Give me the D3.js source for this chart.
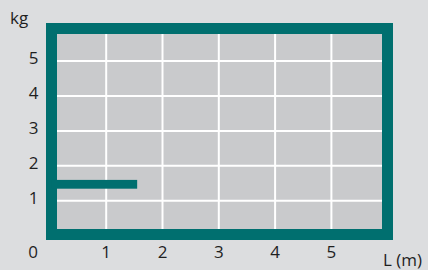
<!DOCTYPE html>
<html>
<head>
<meta charset="utf-8">
<script src="https://cdn.jsdelivr.net/npm/d3@7"></script>
<style>
  body { margin: 0; background: #dcdddf; }
  text { font-family: "Open Sans", sans-serif; fill: #1f1f1f; font-size: 17px; }
</style>
</head>
<body>
<div id="chart"></div>
<script>
// chart data
var xTicks = [1, 2, 3, 4, 5];
var yTicks = [1, 2, 3, 4, 5];
// the single horizontal bar: length and weight
var barLength = [1.55];
var barWeight = [1.47];

var width = 428,
    height = 270;

var svg = d3.select("#chart")
  .append("svg")
    .attr("width", width)
    .attr("height", height);

svg.append("rect")
  .attr("width", width).attr("height", height)
  .attr("fill", "#dcdddf");

var x = d3.scaleLinear().domain([0, 1]).range([49.9, 106.2]);
var y = d3.scaleLinear().domain([0, 1]).range([235.6, 200.7]);

var frameW = 11;
var boxL = 46, boxR = 393, boxT = 23, boxB = 240;

// plot area
svg.append("rect")
  .attr("x", boxL).attr("y", boxT)
  .attr("width", boxR - boxL).attr("height", boxB - boxT)
  .attr("fill", "#c9cacc");

// grid
svg.selectAll(".vgrid")
  .data(xTicks)
  .enter()
  .append("line")
    .attr("x1", function(d) { return x(d); })
    .attr("x2", function(d) { return x(d); })
    .attr("y1", boxT).attr("y2", boxB)
    .attr("stroke", "#fff")
    .attr("stroke-width", 2);

svg.selectAll(".hgrid")
  .data(yTicks)
  .enter()
  .append("line")
    .attr("y1", function(d) { return y(d); })
    .attr("y2", function(d) { return y(d); })
    .attr("x1", boxL).attr("x2", boxR)
    .attr("stroke", "#fff")
    .attr("stroke-width", 2);

// frame
svg.append("rect")
  .attr("x", boxL + frameW / 2).attr("y", boxT + frameW / 2)
  .attr("width", boxR - boxL - frameW).attr("height", boxB - boxT - frameW)
  .attr("fill", "none")
  .attr("stroke", "#006f6f")
  .attr("stroke-width", frameW);

// bar
svg.selectAll(".bar")
  .data(barLength)
  .enter()
  .append("rect")
    .attr("x", boxL + frameW / 2)
    .attr("y", function(d, i) { return y(barWeight[i]) - 4.4; })
    .attr("width", function(d) { return x(d) - boxL - frameW / 2; })
    .attr("height", 8.8)
    .attr("fill", "#006f6f");

// y labels
svg.selectAll(".ylab")
  .data(yTicks)
  .enter()
  .append("text")
    .attr("x", 38.5)
    .attr("y", function(d) { return y(d) - 3; })
    .attr("dy", "0.36em")
    .attr("text-anchor", "end")
    .text(function(d) { return d; });

// x labels
svg.selectAll(".xlab")
  .data(xTicks)
  .enter()
  .append("text")
    .attr("x", function(d) { return x(d); })
    .attr("y", 252)
    .attr("dy", "0.36em")
    .attr("text-anchor", "middle")
    .text(function(d) { return d; });

svg.append("text")
  .attr("x", 33).attr("y", 252).attr("dy", "0.36em")
  .attr("text-anchor", "middle")
  .text("0");

svg.append("text")
  .attr("x", 10).attr("y", 24)
  .text("kg");

svg.append("text")
  .attr("x", 383).attr("y", 266)
  .text("L (m)");
</script>
</body>
</html>
